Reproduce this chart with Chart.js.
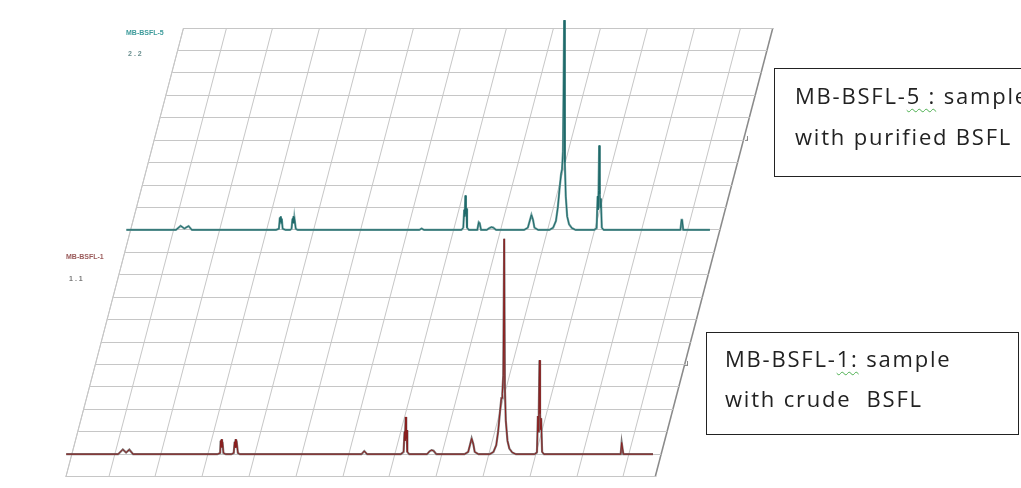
<!DOCTYPE html>
<html>
<head>
<meta charset="utf-8">
<script src="https://cdn.jsdelivr.net/npm/chart.js@4.4.1/dist/chart.umd.min.js"></script>
<style>
  html, body { margin: 0; padding: 0; background: #fff; }
  #wrap { position: relative; width: 1021px; height: 488px; overflow: hidden; }
  #nmr { position: absolute; left: 0; top: 0; }
  .tag { position: absolute; font-family: "Liberation Sans", sans-serif; font-size: 7px; font-weight: bold; white-space: nowrap; }
  .mark { position: absolute; font-family: "DejaVu Sans", sans-serif; font-size: 9px; color: #777; }
  .box { position: absolute; border: 1.5px solid #222; background: #fff; }
  .note { position: absolute; font-family: "Open Sans", sans-serif; font-size: 22px; color: #222; letter-spacing: 1.8px; line-height: 22px; white-space: nowrap; }
  .sq { text-decoration: underline wavy #4caf50 1px; text-underline-offset: 4px; }
</style>
</head>
<body>
<div id="wrap">
  <canvas id="nmr" width="1021" height="488"></canvas>

  <div class="tag" style="left:126px;top:29px;color:#3d9b9b">MB-BSFL-5</div>
  <div class="tag" style="left:128px;top:50px;color:#6a8f8f;letter-spacing:2px">2.2</div>
  <div class="tag" style="left:66px;top:253px;color:#9a5a5a">MB-BSFL-1</div>
  <div class="tag" style="left:69px;top:275px;color:#777;letter-spacing:2px">1.1</div>

  <div class="mark" style="left:745px;top:133px">ɹ</div>
  <div class="mark" style="left:685px;top:358px">ɹ</div>

  <div class="box" style="left:774px;top:68px;width:300px;height:107px"></div>
  <div class="note" style="left:795px;top:84px">MB-BSFL-<span class="sq">5 :</span> sample</div>
  <div class="note" style="left:795px;top:125px">with purified BSFL</div>

  <div class="box" style="left:706px;top:332px;width:311px;height:101px"></div>
  <div class="note" style="left:725px;top:347px">MB-BSFL-<span class="sq">1:</span> sample</div>
  <div class="note" style="left:725px;top:387px">with crude&nbsp; BSFL</div>
</div>

<script>
// axis range (ppm, reversed) and the grid lines of the floor
const X_MIN = -0.344;
const X_MAX = 5.96;
const X_GRID = [5.96, 5.5, 5.0, 4.5, 4.0, 3.5, 3.0, 2.5, 2.0, 1.5, 1.0, 0.5, 0.0, -0.344];
const Y_ROWS = 20;

// rows of the floor where each spectrum sits
const ROW_TOP = 11;
const ROW_BOTTOM = 1;

// MB-BSFL-5 (purified)
const TOP_PPM = [6.00, 5.47, 5.42, 5.38, 5.335, 5.30,
  4.40, 4.37, 4.36, 4.355, 4.35, 4.345, 4.34, 4.33, 4.30,
  4.25, 4.235, 4.225, 4.22, 4.215, 4.21, 4.205, 4.19, 4.17,
  2.87, 2.845, 2.82,
  2.42, 2.40, 2.39, 2.385, 2.378, 2.372, 2.368, 2.36, 2.34,
  2.25, 2.235, 2.225, 2.21,
  2.15, 2.12, 2.10, 2.08, 2.05,
  1.75, 1.71, 1.69, 1.672, 1.655, 1.64, 1.60,
  1.48, 1.44, 1.41, 1.39, 1.37, 1.355, 1.345, 1.335, 1.322, 1.315, 1.305, 1.29, 1.27, 1.24, 1.20,
  1.00, 0.975, 0.965, 0.96, 0.955, 0.948, 0.942, 0.936, 0.93, 0.92, 0.90,
  0.08, 0.068, 0.062, 0.05, -0.235];
const TOP_INT = [0, 0, 0.18, 0.06, 0.17, 0,
  0, 0.05, 0.55, 0.35, 0.6, 0.3, 0.5, 0.05, 0,
  0, 0.05, 0.5, 0.3, 0.6, 0.3, 0.55, 0.05, 0,
  0, 0.06, 0,
  0, 0.1, 0.9, 0.6, 1.53, 0.7, 0.95, 0.1, 0,
  0, 0.34, 0.3, 0,
  0, 0.08, 0.12, 0.1, 0,
  0, 0.1, 0.4, 0.67, 0.45, 0.1, 0,
  0, 0.1, 0.4, 1.0, 1.9, 2.5, 2.7, 3.5, 9.35, 3.0, 1.5, 0.6, 0.25, 0.08, 0,
  0, 0.08, 1.5, 0.9, 1.75, 3.76, 1.6, 1.0, 1.4, 0.1, 0,
  0, 0.45, 0.45, 0, 0];

// MB-BSFL-1 (crude)
const BOT_PPM = [6.015, 5.46, 5.41, 5.375, 5.34, 5.30,
  4.40, 4.37, 4.365, 4.36, 4.355, 4.35, 4.345, 4.335, 4.31,
  4.25, 4.225, 4.215, 4.21, 4.205, 4.20, 4.195, 4.18, 4.16,
  2.86, 2.83, 2.80,
  2.44, 2.41, 2.40, 2.395, 2.388, 2.382, 2.378, 2.37, 2.35,
  2.16, 2.13, 2.11, 2.09, 2.06,
  1.76, 1.72, 1.70, 1.683, 1.665, 1.65, 1.61,
  1.49, 1.45, 1.42, 1.40, 1.38, 1.365, 1.355, 1.345, 1.335, 1.328, 1.318, 1.30, 1.28, 1.25, 1.21,
  1.01, 0.985, 0.975, 0.97, 0.965, 0.958, 0.952, 0.946, 0.94, 0.93, 0.91,
  0.09, 0.08, 0.074, 0.062, -0.255];
const BOT_INT = [0, 0, 0.21, 0.07, 0.2, 0,
  0, 0.05, 0.6, 0.35, 0.66, 0.3, 0.55, 0.05, 0,
  0, 0.05, 0.55, 0.3, 0.66, 0.3, 0.6, 0.05, 0,
  0, 0.14, 0,
  0, 0.1, 1.0, 0.6, 1.66, 0.7, 1.07, 0.1, 0,
  0, 0.14, 0.18, 0.15, 0,
  0, 0.1, 0.42, 0.70, 0.45, 0.1, 0,
  0, 0.1, 0.4, 1.0, 1.9, 2.5, 2.7, 3.5, 9.6, 3.0, 1.5, 0.6, 0.25, 0.08, 0,
  0, 0.08, 1.7, 1.0, 1.96, 4.19, 1.8, 1.1, 1.6, 0.1, 0,
  0, 0.52, 0.52, 0, 0];

const SKEW = 0.262;   // floor slant: px of x per px of y
const GRID_COL = '#c6c6c6';

function spectrum(ppm, inten, row) {
  return ppm.map((p, i) => ({ x: p, y: row + inten[i] }));
}

// floor is drawn slanted, spectra stay upright but shifted onto their row
const slant = {
  id: 'slant',
  beforeDraw(chart) {
    const ctx = chart.ctx;
    ctx.save();
    ctx.transform(1, 0, -SKEW, 1, SKEW * chart.chartArea.top, 0);
  },
  beforeDatasetsDraw(chart) {
    chart.ctx.restore();
  },
  beforeDatasetDraw(chart, args) {
    const ds = chart.data.datasets[args.index];
    const yPix = chart.scales.y.getPixelForValue(ds.row);
    chart.ctx.save();
    chart.ctx.translate(-SKEW * (yPix - chart.chartArea.top), 0);
  },
  afterDatasetDraw(chart) {
    chart.ctx.restore();
  }
};

const topData = spectrum(TOP_PPM, TOP_INT, ROW_TOP);
const botData = spectrum(BOT_PPM, BOT_INT, ROW_BOTTOM);

const line = (data, row, color, width, order) => ({
  data, row, order,
  borderColor: color, borderWidth: width,
  pointRadius: 0, tension: 0, clip: false, fill: false
});

new Chart(document.getElementById('nmr').getContext('2d'), {
  type: 'line',
  data: { datasets: [
    line(topData, ROW_TOP, '#1f6a6a', 1, 1),
    line(topData, ROW_TOP, 'rgba(96,150,150,0.9)', 2.2, 3),
    line(botData, ROW_BOTTOM, '#8a1f1f', 1, 2),
    line(botData, ROW_BOTTOM, 'rgba(112,104,104,0.9)', 2.2, 4)
  ]},
  options: {
    responsive: false, animation: false,
    layout: { padding: { left: 183, right: 248, top: 28, bottom: 11.4 } },
    plugins: { legend: { display: false }, tooltip: { enabled: false } },
    scales: {
      x: {
        type: 'linear', reverse: true, min: X_MIN, max: X_MAX,
        afterBuildTicks: s => { s.ticks = X_GRID.map(v => ({ value: v })); },
        ticks: { display: false },
        grid: {
          drawTicks: false,
          color: c => (c.tick && c.tick.value === X_MIN) ? '#8a8a8a' : GRID_COL,
          lineWidth: c => (c.tick && c.tick.value === X_MIN) ? 1.6 : 1
        },
        border: { color: GRID_COL }
      },
      y: {
        min: 0, max: Y_ROWS,
        ticks: { display: false, stepSize: 1 },
        grid: { drawTicks: false, color: GRID_COL },
        border: { color: GRID_COL }
      }
    }
  },
  plugins: [slant]
});
</script>
</body>
</html>
